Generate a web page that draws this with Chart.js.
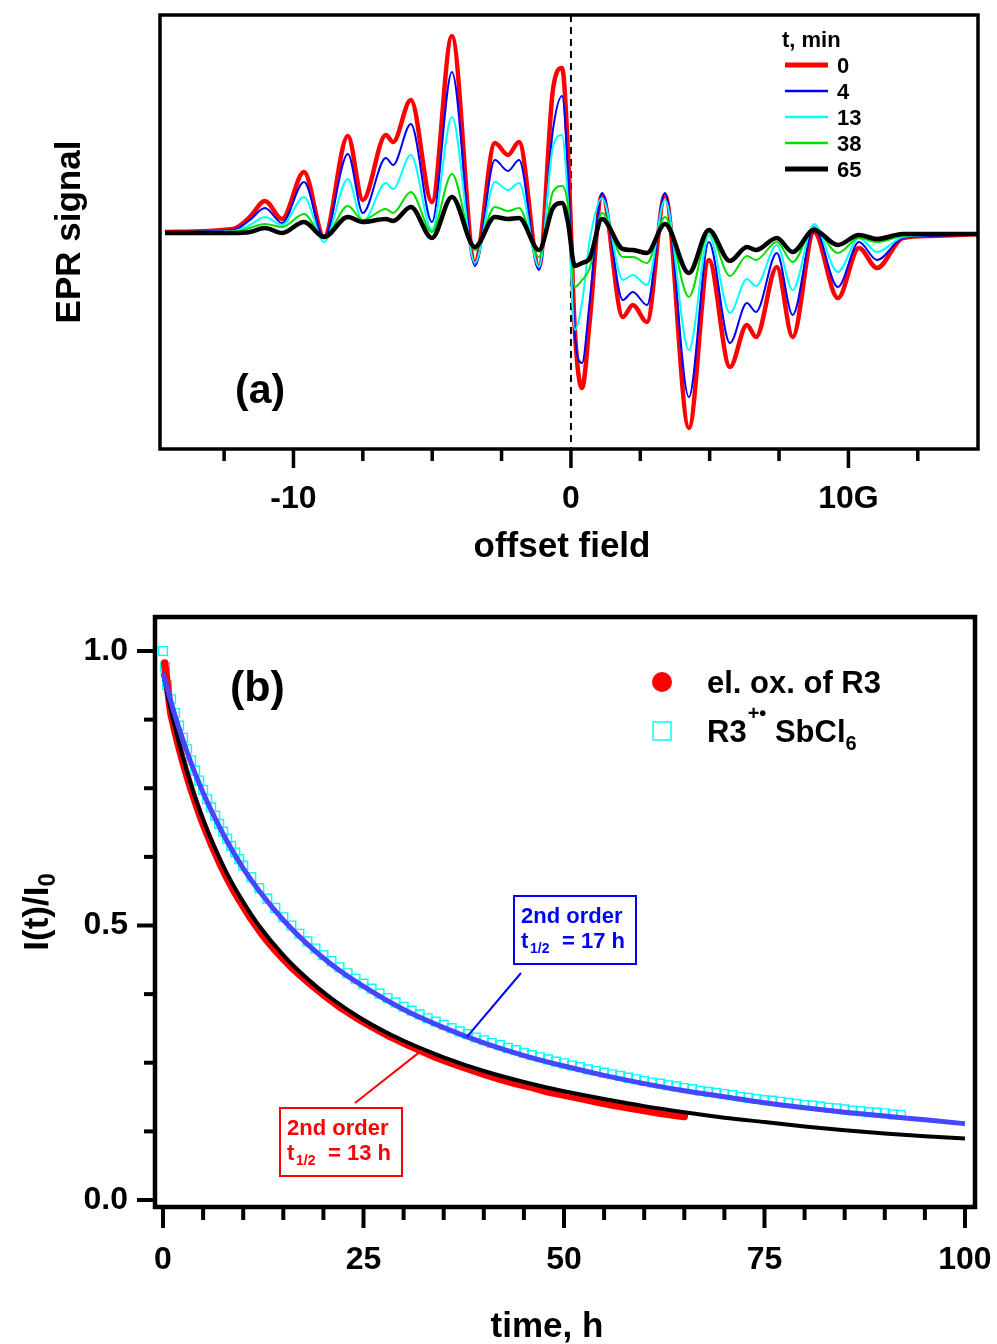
<!DOCTYPE html>
<html><head><meta charset="utf-8">
<script src="https://cdn.jsdelivr.net/npm/chart.js@4.4.1/dist/chart.umd.min.js"></script>
<style>
html,body{margin:0;padding:0;background:#fff;overflow:hidden;width:997px;height:1344px;}
canvas{position:absolute;left:0;}
#c1{top:0;}
#c2{top:570px;}
</style></head><body>
<canvas id="c1" width="997" height="570"></canvas>
<canvas id="c2" width="997" height="774"></canvas>
<script>
const FONT = '"Liberation Sans", Arial, Helvetica, sans-serif';

// ---------- panel (a): EPR spectra ----------
const fieldG = [-14.63,-12.18,-11.57,-11.03,-10.41,-9.62,-8.90,-8.04,-7.50,-6.67,-6.41,-5.77,-5.01,-4.29,-3.46,-2.74,-2.27,-1.87,-1.15,-0.65,-0.32,-0.11,0.14,0.40,0.68,1.12,1.87,2.23,2.74,3.39,4.25,4.97,5.73,6.34,6.67,7.42,7.99,8.76,9.62,10.38,11.03,11.96,12.94,14.67];
const epr0min  = [1,4,16,32,14,61,-4,97,33,98,91,133,31,197,-29,90,78,91,-34,143,165,83,-97,-155,-87,38,-84,-72,-89,38,-195,-27,-134,-92,-104,-34,-104,1,-65,-15,-35,-5,-3,-1];
const epr4min  = [1,3,13,25,10,51,-5,79,20,75,68,109,11,161,-33,73,62,73,-37,103,137,63,-102,-130,-67,40,-67,-59,-72,40,-164,-9,-110,-70,-79,-20,-82,6,-54,-9,-27,-5,-3,-1];
const epr13min = [1,2,8,16,8,36,-9,54,11,50,44,78,3,116,-30,51,43,50,-34,86,98,33,-97,-70,-7,35,-47,-42,-52,33,-117,-2,-80,-46,-53,-12,-57,9,-39,-5,-19,-4,-2,-1];
const epr38min = [1,1,5,9,6,19,-5,27,13,24,20,41,1,59,-17,26,22,25,-24,41,47,28,-54,-47,-35,20,-24,-24,-30,16,-64,1,-43,-23,-27,-9,-29,5,-20,-5,-9,-3,-2,-1];
const epr65min = [0,0,1,5,0,11,-4,16,11,14,12,26,-5,36,-14,16,14,15,-17,25,30,11,-33,-30,-25,14,-16,-17,-20,9,-40,3,-28,-14,-17,-5,-19,3,-12,-2,-6,-1,-1,-1];
const eprLabels = ['0','4','13','38','65'];
const fieldTicks = [-12.5,-10,-7.5,-5,-2.5,0,2.5,5,7.5,10,12.5];
const fieldLabelValues = [-10,0,10];
const fieldLabelTexts = ['-10','0','10G'];

// ---------- panel (b): decay kinetics ----------
const redTime  = [0.2,0.4,0.6,0.8,1,1.5,2,2.5,3,3.5,4,4.5,5,6,7,8,9,10,11,12,13,14,15,16,17,18,19,20,22,24,26,28,30,32,34,36,38,40,42,44,46,48,50,52,54,56,58,60,62,64,65];
const redRatio = [0.978,0.955,0.930,0.905,0.885,0.853,0.824,0.797,0.772,0.748,0.726,0.705,0.685,0.649,0.616,0.586,0.559,0.535,0.512,0.491,0.472,0.455,0.439,0.424,0.411,0.398,0.386,0.374,0.352,0.333,0.316,0.300,0.286,0.273,0.260,0.249,0.239,0.229,0.220,0.212,0.205,0.197,0.191,0.185,0.179,0.173,0.168,0.163,0.158,0.154,0.152];
const cyanTime  = [0,0.25,0.5,1,1.5,2,2.5,3,3.5,4,4.5,5,5.5,6,6.5,7,7.5,8,8.5,9,9.5,10,11,12,13,14,15,16,17,18,19,20,21,22,23,24,25,26,27,28,29,30,31,32,33,34,35,36,37,38,39,40,41,42,43,44,45,46,47,48,49,50,51,52,53,54,55,56,57,58,59,60,61,62,63,64,65,66,67,68,69,70,71,72,73,74,75,76,77,78,79,80,81,82,83,84,85,86,87,88,89,90,91,92];
const cyanRatio = [1.000,0.970,0.938,0.912,0.887,0.864,0.842,0.821,0.801,0.782,0.764,0.747,0.730,0.715,0.700,0.685,0.671,0.658,0.645,0.633,0.621,0.609,0.588,0.568,0.549,0.532,0.515,0.500,0.485,0.471,0.458,0.446,0.435,0.424,0.413,0.403,0.394,0.385,0.376,0.368,0.360,0.352,0.345,0.338,0.331,0.325,0.319,0.313,0.307,0.302,0.296,0.291,0.286,0.282,0.277,0.273,0.268,0.264,0.260,0.256,0.252,0.249,0.245,0.242,0.238,0.235,0.232,0.229,0.226,0.223,0.220,0.217,0.214,0.212,0.209,0.207,0.204,0.202,0.199,0.197,0.195,0.193,0.191,0.188,0.186,0.184,0.182,0.181,0.179,0.177,0.175,0.173,0.172,0.170,0.168,0.167,0.165,0.163,0.162,0.160,0.159,0.158,0.156,0.155];
const fitTime = [0,0.5,1,1.5,2,3,4,5,6,8,10,12,15,18,21,25,30,35,40,45,50,55,60,65,70,75,80,85,90,95,100];
const fit13h  = [0.960,0.924,0.891,0.861,0.832,0.780,0.734,0.693,0.657,0.594,0.543,0.499,0.446,0.403,0.367,0.328,0.290,0.260,0.235,0.215,0.198,0.184,0.171,0.160,0.150,0.142,0.134,0.127,0.121,0.116,0.112];
const fit17h  = [0.960,0.933,0.907,0.882,0.859,0.816,0.777,0.742,0.710,0.653,0.604,0.563,0.510,0.466,0.429,0.389,0.347,0.314,0.286,0.263,0.244,0.227,0.212,0.199,0.188,0.177,0.168,0.160,0.153,0.146,0.139];
const timeTicks = [0,5,10,15,20,25,30,35,40,45,50,55,60,65,70,75,80,85,90,95,100];
const timeLabelValues = [0,25,50,75,100];
const ratioTicks = [0,0.125,0.25,0.375,0.5,0.625,0.75,0.875,1];
const ratioLabelValues = [0,0.5,1];
const ratioLabelTexts = ['0.0','0.5','1.0'];
const annot17 = {t:37.9, v:0.297};
const annot13 = {t:32.3, v:0.273};

// ---------- helpers ----------
const pts = (xs, ys) => xs.map((x, i) => ({x: x, y: ys[i]}));
const f = (size, w) => `${w || 'bold'} ${size}px ${FONT}`;
const findIdx = (arr, v) => arr.findIndex(a => Math.abs(a - v) < 1e-9);
Chart.defaults.color = '#000';
Chart.defaults.font.family = FONT;
const noPad = s => { s.paddingLeft = 0; s.paddingRight = 0; s.paddingTop = 0; s.paddingBottom = 0; };

// ---------- chart (a) ----------
const topStyles = [
  {color:'#ff0000', width:4.5, legendWidth:5},
  {color:'#0000ff', width:2, legendWidth:2.5},
  {color:'#00ffff', width:2, legendWidth:2.5},
  {color:'#00e000', width:2, legendWidth:2.5},
  {color:'#000000', width:4.5, legendWidth:5}
];
const eprSeries = [epr0min, epr4min, epr13min, epr38min, epr65min];

const decorTop = {
  id: 'decorTop',
  beforeDatasetsDraw(chart) {
    const {ctx, chartArea: a, scales: {x}} = chart;
    const px = x.getPixelForValue(0);
    ctx.save();
    ctx.strokeStyle = '#000'; ctx.lineWidth = 2; ctx.setLineDash([7, 5]);
    ctx.beginPath(); ctx.moveTo(px, a.top); ctx.lineTo(px, a.bottom); ctx.stroke();
    ctx.restore();
  },
  afterDraw(chart) {
    const {ctx, chartArea: a, scales: {x}} = chart;
    ctx.save();
    ctx.strokeStyle = '#000'; ctx.lineWidth = 3.5;
    ctx.strokeRect(a.left, a.top, a.right - a.left, a.bottom - a.top);
    ctx.lineWidth = 3.5;
    x.ticks.forEach(t => {
      const px = x.getPixelForValue(t.value);
      const major = findIdx(fieldLabelValues, t.value) >= 0;
      ctx.beginPath(); ctx.moveTo(px, a.bottom); ctx.lineTo(px, a.bottom + (major ? 19 : 12)); ctx.stroke();
    });
    // x title
    ctx.fillStyle = '#000'; ctx.textBaseline = 'alphabetic';
    ctx.font = f(35); ctx.textAlign = 'center';
    ctx.fillText('offset field', 562, 557);
    ctx.textAlign = 'left';
    // legend
    ctx.font = f(22);
    ctx.fillText('t, min', 782, 47);
    eprLabels.forEach((lab, i) => {
      const yy = 65 + 26 * i;
      ctx.strokeStyle = topStyles[i].color; ctx.lineWidth = topStyles[i].legendWidth;
      ctx.beginPath(); ctx.moveTo(785, yy); ctx.lineTo(828, yy); ctx.stroke();
      ctx.fillText(lab, 837, yy + 8);
    });
    ctx.font = f(41);
    ctx.fillText('(a)', 235, 403);
    ctx.restore();
  }
};

new Chart(document.getElementById('c1'), {
  type: 'scatter',
  data: {
    datasets: eprSeries.map((s, i) => ({
      label: eprLabels[i] + ' min',
      data: pts(fieldG, s),
      showLine: true,
      borderColor: topStyles[i].color,
      backgroundColor: topStyles[i].color,
      borderWidth: topStyles[i].width,
      pointRadius: 0,
      cubicInterpolationMode: 'monotone',
      borderJoinStyle: 'round',
      order: 5 - i
    }))
  },
  options: {
    responsive: false, animation: false, devicePixelRatio: 1,
    layout: {padding: {top: 15, right: 19, left: 0, bottom: 0}},
    plugins: {legend: {display: false}, tooltip: {enabled: false}},
    scales: {
      x: {
        type: 'linear', min: -14.81, max: 14.67,
        afterBuildTicks: s => { s.ticks = fieldTicks.map(v => ({value: v})); },
        afterFit: s => { s.height = 121; noPad(s); },
        grid: {display: false, drawTicks: false},
        border: {display: false},
        ticks: {
          autoSkip: false, maxRotation: 0, padding: 31,
          font: {family: FONT, size: 32, weight: 'bold', lineHeight: 1.2}, color: '#000',
          callback: v => { const k = findIdx(fieldLabelValues, v); return k >= 0 ? fieldLabelTexts[k] : ''; }
        },
        title: {display: false}
      },
      y: {
        type: 'linear', min: -216, max: 218,
        afterFit: s => { s.width = 160; noPad(s); },
        grid: {display: false, drawTicks: false},
        border: {display: false},
        ticks: {display: false},
        title: {display: true, text: 'EPR signal', color: '#000',
          font: {family: FONT, size: 35, weight: 'bold', lineHeight: 1}, padding: {top: 53, bottom: 0}}
      }
    }
  },
  plugins: [decorTop]
});

// ---------- chart (b) ----------
const OFF = 570;
const decorBottom = {
  id: 'decorBottom',
  afterDraw(chart) {
    const {ctx, chartArea: a, scales: {x, y}} = chart;
    ctx.save();
    ctx.strokeStyle = '#000'; ctx.lineWidth = 4.5;
    ctx.strokeRect(a.left, a.top, a.right - a.left, a.bottom - a.top);
    ctx.lineWidth = 4;
    x.ticks.forEach(t => {
      const px = x.getPixelForValue(t.value);
      const major = findIdx(timeLabelValues, t.value) >= 0;
      ctx.beginPath(); ctx.moveTo(px, a.bottom); ctx.lineTo(px, a.bottom + (major ? 21 : 13)); ctx.stroke();
    });
    y.ticks.forEach(t => {
      const py = y.getPixelForValue(t.value);
      const major = findIdx(ratioLabelValues, t.value) >= 0;
      ctx.beginPath(); ctx.moveTo(a.left, py); ctx.lineTo(a.left - (major ? 18 : 11), py); ctx.stroke();
    });
    // x title
    ctx.fillStyle = '#000'; ctx.textBaseline = 'alphabetic';
    ctx.font = f(35); ctx.textAlign = 'center';
    ctx.fillText('time, h', 547, 1337 - OFF);
    ctx.textAlign = 'left';
    // y title I(t)/I0
    ctx.save();
    ctx.translate(38, 912 - OFF);
    ctx.rotate(-Math.PI / 2);
    ctx.font = f(35); const w1 = ctx.measureText('I(t)/I').width;
    ctx.font = f(24); const w2 = ctx.measureText('0').width;
    const x0 = -(w1 + w2) / 2;
    ctx.textBaseline = 'middle';
    ctx.font = f(35); ctx.fillText('I(t)/I', x0, 0);
    ctx.font = f(24); ctx.fillText('0', x0 + w1, 10);
    ctx.restore();
    // (b)
    ctx.fillStyle = '#000'; ctx.textBaseline = 'alphabetic';
    ctx.font = f(43); ctx.fillText('(b)', 230, 701 - OFF);
    // legend
    ctx.fillStyle = '#ff0000';
    ctx.beginPath(); ctx.arc(662, 682 - OFF, 10, 0, Math.PI * 2); ctx.fill();
    ctx.strokeStyle = '#00ffff'; ctx.lineWidth = 1.5;
    ctx.strokeRect(653, 722 - OFF, 18, 18);
    ctx.fillStyle = '#000';
    ctx.font = f(31); ctx.fillText('el. ox. of R3', 707, 693 - OFF);
    let xx = 707;
    ctx.fillText('R3', xx, 742 - OFF); xx += ctx.measureText('R3').width + 1;
    ctx.font = f(20); ctx.fillText('+\u2022', xx, 720 - OFF); xx += ctx.measureText('+\u2022').width;
    ctx.font = f(31); xx += ctx.measureText(' ').width;
    ctx.fillText('SbCl', xx, 742 - OFF); xx += ctx.measureText('SbCl').width;
    ctx.font = f(20); ctx.fillText('6', xx, 750 - OFF);
    // annotations
    const drawBox = (col, bx, by, half) => {
      ctx.strokeStyle = col; ctx.fillStyle = col; ctx.lineWidth = 2;
      ctx.strokeRect(bx, by - OFF, 122, 68);
      ctx.font = f(22); ctx.fillText('2nd order', bx + 7, by + 27 - OFF);
      ctx.fillText('t', bx + 7, by + 52 - OFF);
      ctx.font = f(14); ctx.fillText('1/2', bx + 16, by + 57 - OFF);
      ctx.font = f(22); ctx.fillText(half, bx + 48, by + 52 - OFF);
    };
    drawBox('#0000ff', 514, 896, '= 17 h');
    drawBox('#ff0000', 280, 1108, '= 13 h');
    ctx.lineWidth = 2;
    ctx.strokeStyle = '#0000ff';
    ctx.beginPath(); ctx.moveTo(521, 973 - OFF); ctx.lineTo(x.getPixelForValue(annot17.t), y.getPixelForValue(annot17.v)); ctx.stroke();
    ctx.strokeStyle = '#ff0000';
    ctx.beginPath(); ctx.moveTo(355, 1103 - OFF); ctx.lineTo(x.getPixelForValue(annot13.t), y.getPixelForValue(annot13.v)); ctx.stroke();
    ctx.restore();
  }
};

new Chart(document.getElementById('c2'), {
  type: 'scatter',
  data: {
    datasets: [
      {label: 'R3 SbCl6', data: pts(cyanTime, cyanRatio), showLine: false,
        pointStyle: 'rect', pointRadius: 6.2, borderColor: '#00ffff', backgroundColor: 'rgba(0,0,0,0)',
        borderWidth: 1.4, order: 4},
      {label: 'el. ox. of R3', data: pts(redTime, redRatio), showLine: true,
        borderColor: '#ff0000', backgroundColor: '#ff0000', borderWidth: 7.5, pointRadius: 0,
        borderCapStyle: 'round', borderJoinStyle: 'round', order: 3},
      {label: '2nd order, t1/2 = 13 h', data: pts(fitTime, fit13h), showLine: true,
        borderColor: '#000000', borderWidth: 4, pointRadius: 0, cubicInterpolationMode: 'monotone', order: 2},
      {label: '2nd order, t1/2 = 17 h', data: pts(fitTime, fit17h), showLine: true,
        borderColor: '#4646ff', borderWidth: 5, pointRadius: 0, cubicInterpolationMode: 'monotone', order: 1}
    ]
  },
  options: {
    responsive: false, animation: false, devicePixelRatio: 1,
    layout: {padding: {top: 47, right: 22, left: 0, bottom: 0}},
    plugins: {legend: {display: false}, tooltip: {enabled: false}},
    scales: {
      x: {
        type: 'linear', min: -1.0, max: 101.25,
        afterBuildTicks: s => { s.ticks = timeTicks.map(v => ({value: v})); },
        afterFit: s => { s.height = 137; noPad(s); },
        grid: {display: false, drawTicks: false},
        border: {display: false},
        ticks: {
          autoSkip: false, maxRotation: 0, padding: 34,
          font: {family: FONT, size: 32, weight: 'bold', lineHeight: 1.2}, color: '#000',
          callback: v => findIdx(timeLabelValues, v) >= 0 ? String(v) : ''
        },
        title: {display: false}
      },
      y: {
        type: 'linear', min: -0.01275, max: 1.0619,
        afterBuildTicks: s => { s.ticks = ratioTicks.map(v => ({value: v})); },
        afterFit: s => { s.width = 155; noPad(s); },
        grid: {display: false, drawTicks: false},
        border: {display: false},
        ticks: {
          autoSkip: false, padding: 27,
          font: {family: FONT, size: 32, weight: 'bold'}, color: '#000',
          callback: v => { const k = findIdx(ratioLabelValues, v); return k >= 0 ? ratioLabelTexts[k] : ''; }
        },
        title: {display: false}
      }
    }
  },
  plugins: [decorBottom]
});
</script>
</body></html>
